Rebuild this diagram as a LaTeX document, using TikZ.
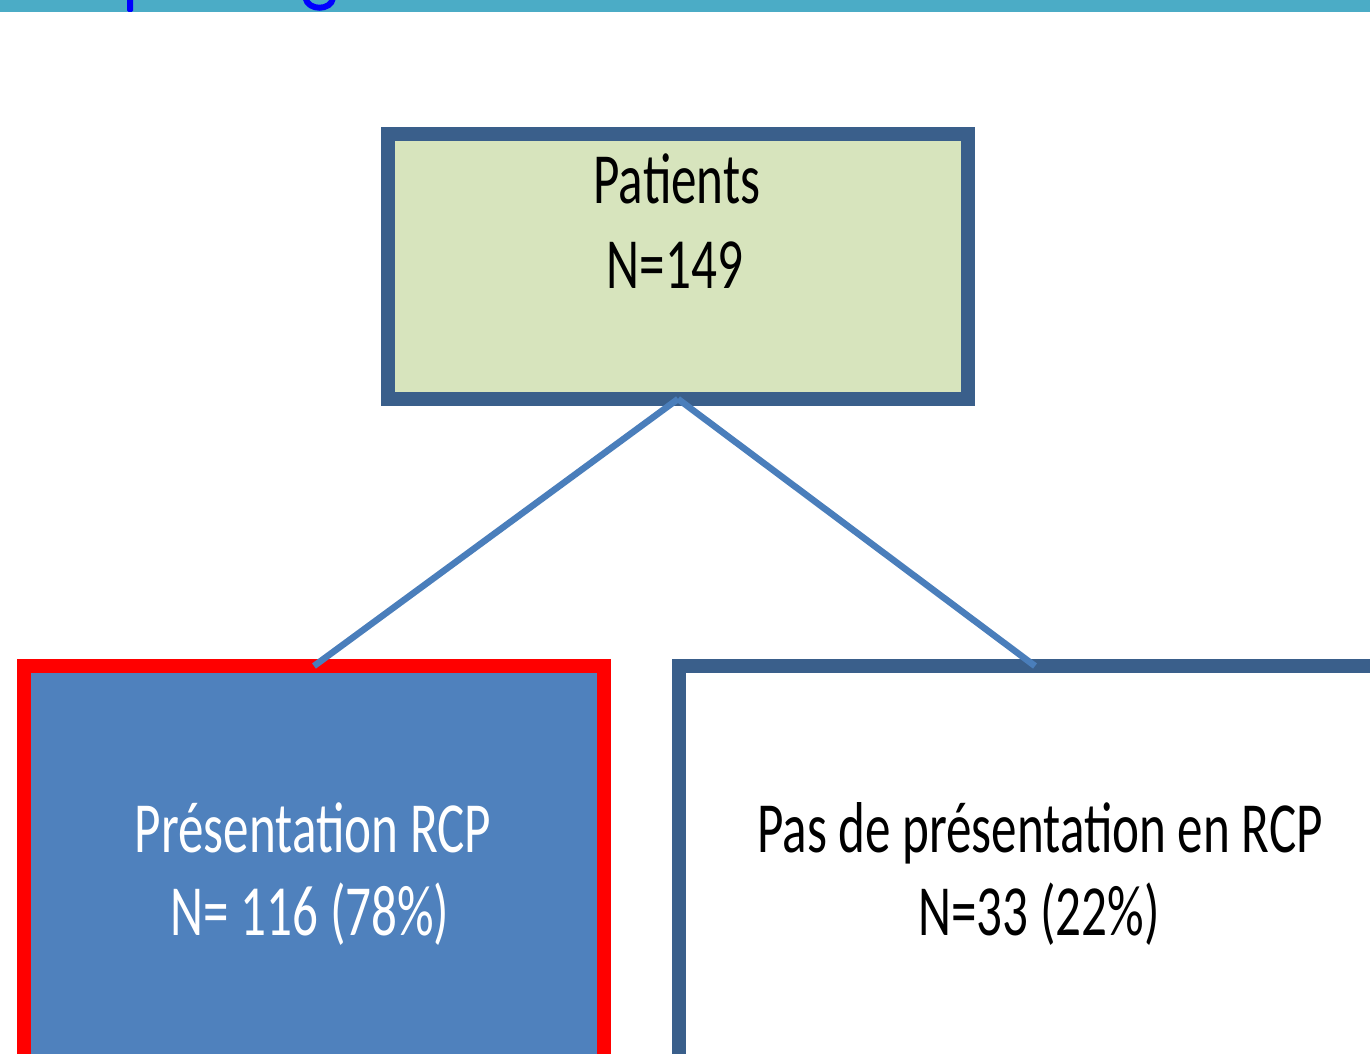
\documentclass[tikz,border=0pt]{standalone}
\usepackage{fontspec}
\setmainfont{Carlito}
\usepackage{graphicx}
\definecolor{barteal}{HTML}{4BACC6}
\definecolor{boxborder}{HTML}{3A5F8B}
\definecolor{topfill}{HTML}{D7E4BD}
\definecolor{leftfill}{HTML}{4F81BD}
\definecolor{linkblue}{HTML}{4A7EBB}
\newcommand{\boxtxt}[1]{\scalebox{0.71}[1]{\fontsize{72}{87}\selectfont #1}}
\tikzset{
  flowbox/.style={draw=boxborder, line width=14pt, rectangle, inner sep=0pt, outer sep=0pt},
  lbl/.style={anchor=base, inner sep=0pt},
  link/.style={draw=linkblue, line width=6.5pt}
}
\begin{document}
\begin{tikzpicture}[x=1pt,y=-1pt]
\useasboundingbox (0,0) rectangle (1370,1054);
\clip (0,0) rectangle (1370,1054);
\fill[white] (0,0) rectangle (1370,1054);
% top bar with title fragments
\fill[barteal] (0,-5) rectangle (1370,12);
\fill[blue, rounded corners=1.5pt] (127,-5) rectangle (133,12);
\draw[blue, line width=6pt] (305.5,-2) .. controls (308,11) and (331,11) .. (333,-2);
% boxes
\node[flowbox, fill=topfill, minimum width=580pt, minimum height=265pt] (top) at (678,266.5) {};
\node[flowbox, draw=red, fill=leftfill, minimum width=580pt, minimum height=500pt] (left) at (314,916) {};
\node[flowbox, fill=white, minimum width=712pt, minimum height=500pt] (right) at (1035,916) {};
% connectors
\draw[link] (top.south) -- (left.north);
\draw[link] (top.south) -- (right.north);
% texts
\node[lbl] (t1) at (677,203) {\boxtxt{Patients}};
\node[lbl] (t2) at (675,288) {\boxtxt{N=149}};
\node[lbl, text=white] (l1) at (313,852) {\boxtxt{Présentation RCP}};
\node[lbl, text=white] (l2) at (310,935) {\boxtxt{N= 116 (78\%)}};
\node[lbl] (r1) at (1040,852) {\boxtxt{Pas de présentation en RCP}};
\node[lbl] (r2) at (1039,935) {\boxtxt{N=33 (22\%)}};
\end{tikzpicture}
\end{document}
